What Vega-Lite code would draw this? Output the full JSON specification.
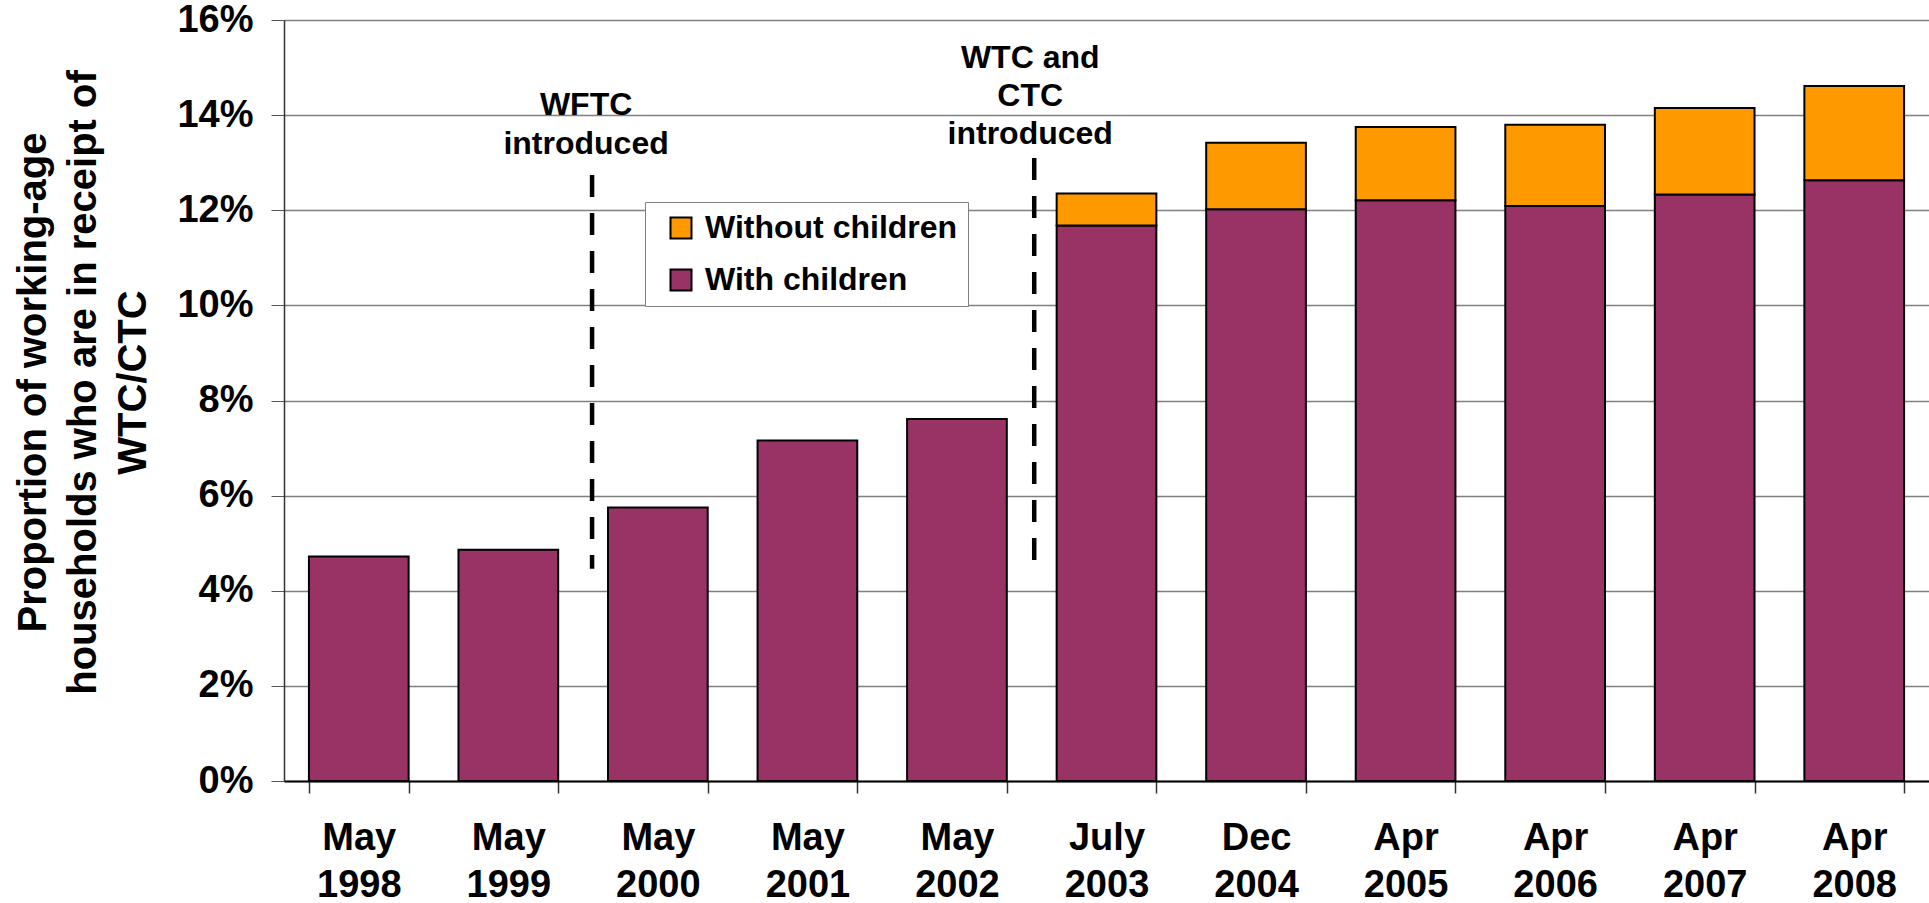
{
  "$schema": "https://vega.github.io/schema/vega-lite/v6.json",
  "width": 1645,
  "height": 761,
  "autosize": {"type": "none"},
  "padding": {"left": 284, "top": 20, "right": 0, "bottom": 122},
  "background": "white",
  "config": {"view": {"stroke": null}, "font": "Liberation Sans"},
  "datasets": {
    "bars": [
      {"period": "May 1998", "series": "With children", "share": 0.0472},
      {"period": "May 1999", "series": "With children", "share": 0.0486},
      {"period": "May 2000", "series": "With children", "share": 0.0575},
      {"period": "May 2001", "series": "With children", "share": 0.0716},
      {"period": "May 2002", "series": "With children", "share": 0.0761},
      {"period": "July 2003", "series": "With children", "share": 0.1168},
      {"period": "Dec 2004", "series": "With children", "share": 0.1202},
      {"period": "Apr 2005", "series": "With children", "share": 0.1221},
      {"period": "Apr 2006", "series": "With children", "share": 0.1209},
      {"period": "Apr 2007", "series": "With children", "share": 0.1233},
      {"period": "Apr 2008", "series": "With children", "share": 0.1263},
      {"period": "July 2003", "series": "Without children", "share": 0.0067},
      {"period": "Dec 2004", "series": "Without children", "share": 0.0140},
      {"period": "Apr 2005", "series": "Without children", "share": 0.0154},
      {"period": "Apr 2006", "series": "Without children", "share": 0.0171},
      {"period": "Apr 2007", "series": "Without children", "share": 0.0182},
      {"period": "Apr 2008", "series": "Without children", "share": 0.0198}
    ],
    "wftcLine": [{"period": "May 2000", "share": 0.1274, "bottom": 0.0446}],
    "wtcLine": [{"period": "July 2003", "share": 0.1310, "bottom": 0.0437}],
    "wftcText": [{"period": "May 2000", "share": 0.1400, "label": "WFTC\nintroduced"}],
    "wtcText": [{"period": "July 2003", "share": 0.1500, "label": "WTC and\nCTC\nintroduced"}]
  },
  "layer": [
    {
      "data": {"name": "bars"},
      "mark": {"type": "bar", "stroke": "black", "strokeWidth": 2},
      "encoding": {
        "x": {
          "field": "period",
          "type": "nominal",
          "sort": null,
          "scale": {
            "domain": ["May 1998", "May 1999", "May 2000", "May 2001", "May 2002", "July 2003", "Dec 2004", "Apr 2005", "Apr 2006", "Apr 2007", "Apr 2008"],
            "paddingInner": 0.3333,
            "paddingOuter": 0.1667
          },
          "axis": {
            "title": null,
            "labelExpr": "split(datum.label, ' ')",
            "labelAngle": 0,
            "labelFontSize": 38,
            "labelFontWeight": "bold",
            "labelColor": "black",
            "labelLineHeight": 47,
            "labelBaseline": "alphabetic",
            "labelPadding": 56,
            "labelOverlap": false,
            "labelLimit": 0,
            "tickSize": 12,
            "tickBand": "extent",
            "tickColor": "#333333",
            "tickWidth": 1.5,
            "domainColor": "black",
            "domainWidth": 2,
            "grid": false
          }
        },
        "y": {
          "field": "share",
          "type": "quantitative",
          "stack": "zero",
          "scale": {"domain": [0, 0.16], "nice": false},
          "axis": {
            "title": ["Proportion of working-age", "households who are in receipt of", "WTC/CTC"],
            "titleFontSize": 40,
            "titleFontWeight": "bold",
            "titleColor": "black",
            "titleLineHeight": 50,
            "titleAngle": 270,
            "titleAlign": "center",
            "titleBaseline": "alphabetic",
            "titleX": -239,
            "titleY": 362,
            "values": [0, 0.02, 0.04, 0.06, 0.08, 0.1, 0.12, 0.14, 0.16],
            "format": ".0%",
            "labelFontSize": 38,
            "labelFontWeight": "bold",
            "labelColor": "black",
            "labelPadding": 18,
            "tickSize": 13,
            "tickColor": "#555555",
            "domainColor": "#333333",
            "domainWidth": 1.5,
            "grid": true,
            "gridColor": "#808080",
            "gridWidth": 1.5
          }
        },
        "color": {
          "field": "series",
          "type": "nominal",
          "scale": {"domain": ["Without children", "With children"], "range": ["#FF9900", "#993366"]},
          "legend": {
            "title": null,
            "orient": "none",
            "legendX": 361,
            "legendY": 182,
            "direction": "vertical",
            "symbolType": "square",
            "symbolSize": 441,
            "symbolStrokeColor": "black",
            "symbolStrokeWidth": 2,
            "symbolOffset": 10,
            "labelFontSize": 32,
            "labelFontWeight": "bold",
            "labelColor": "black",
            "labelOffset": 8,
            "labelLimit": 400,
            "rowPadding": 20,
            "padding": 10,
            "strokeColor": "#808080",
            "fillColor": "white"
          }
        },
        "order": {"field": "series", "sort": "ascending"}
      }
    },
    {
      "data": {"name": "wftcLine"},
      "mark": {"type": "rule", "color": "black", "strokeWidth": 4.5, "strokeDash": [22, 16]},
      "encoding": {
        "x": {"field": "period", "type": "nominal", "bandPosition": -0.16},
        "y": {"field": "share", "type": "quantitative"},
        "y2": {"field": "bottom"}
      }
    },
    {
      "data": {"name": "wtcLine"},
      "mark": {"type": "rule", "color": "black", "strokeWidth": 4.5, "strokeDash": [22, 16]},
      "encoding": {
        "x": {"field": "period", "type": "nominal", "bandPosition": -0.225},
        "y": {"field": "share", "type": "quantitative"},
        "y2": {"field": "bottom"}
      }
    },
    {
      "data": {"name": "wftcText"},
      "mark": {"type": "text", "fontSize": 32, "fontWeight": "bold", "lineHeight": 39, "baseline": "alphabetic", "align": "center", "lineBreak": "\n", "color": "black"},
      "encoding": {
        "x": {"field": "period", "type": "nominal", "bandPosition": -0.22},
        "y": {"field": "share", "type": "quantitative"},
        "text": {"field": "label"}
      }
    },
    {
      "data": {"name": "wtcText"},
      "mark": {"type": "text", "fontSize": 32, "fontWeight": "bold", "lineHeight": 38, "baseline": "alphabetic", "align": "center", "lineBreak": "\n", "color": "black"},
      "encoding": {
        "x": {"field": "period", "type": "nominal", "bandPosition": -0.265},
        "y": {"field": "share", "type": "quantitative"},
        "text": {"field": "label"}
      }
    }
  ]
}
